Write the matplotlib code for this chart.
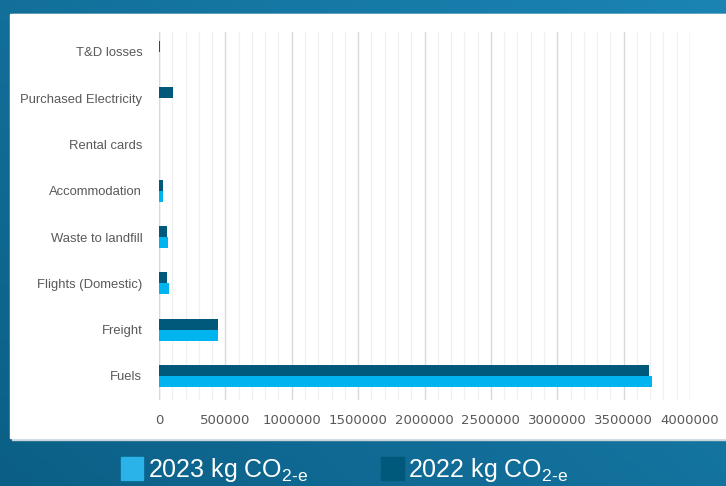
import numpy as np
import matplotlib.pyplot as plt
from matplotlib.patches import Rectangle
from matplotlib.ticker import MultipleLocator
from matplotlib.colors import LinearSegmentedColormap

plt.rcParams['mathtext.fontset'] = 'custom'
plt.rcParams['mathtext.rm'] = 'Liberation Sans'

## categories, top to bottom as in the picture
categories = ['T&D losses', 'Purchased Electricity', 'Rental cards', 'Accommodation',
              'Waste to landfill', 'Flights (Domestic)', 'Freight', 'Fuels']
vals_2022 = [4000, 103000, 3000, 28000, 57000, 58000, 444000, 3690000]
vals_2023 = [2000, 0, 3000, 32000, 65000, 75000, 444000, 3710000]
xticks = [0, 500000, 1000000, 1500000, 2000000, 2500000, 3000000, 3500000, 4000000]

c22 = '#00587a'
c23 = '#00b4f0'

fig = plt.figure(figsize=(7.26, 4.86), dpi=100)

## blue gradient background
bg = fig.add_axes([0, 0, 1, 1], zorder=-10)
gx, gy = np.meshgrid(np.linspace(0, 1, 200), np.linspace(0, 1, 200))
grad = 0.55 * gx + 0.45 * (1 - gy)
cmap = LinearSegmentedColormap.from_list('bg', ['#0b5f86', '#1b84b3'])
bg.imshow(grad, cmap=cmap, aspect='auto', extent=[0, 1, 0, 1], origin='upper')
bg.set_xlim(0, 1); bg.set_ylim(0, 1)
bg.axis('off')
## white panel
bg.add_patch(Rectangle((12 / 726, 1 - 440 / 486), 1, 426 / 486, color='#c8d3da', zorder=1))
bg.add_patch(Rectangle((10 / 726, 1 - 438 / 486), 1, 424 / 486, color='white', zorder=2))

ax = fig.add_axes([159 / 726, 1 - 400 / 486, (690 - 159) / 726, 368 / 486])
y = np.arange(len(categories))[::-1]
h = 0.24
ax.barh(y + h / 2, vals_2022, height=h, color=c22, zorder=3)
ax.barh(y - h / 2, vals_2023, height=h, color=c23, zorder=3)

ax.set_xlim(0, 4000000)
ax.set_ylim(-0.52, len(categories) - 0.57)
ax.set_yticks(y)
ax.set_yticklabels(categories)
ax.set_xticks(xticks)
ax.set_xticklabels([str(t) for t in xticks])
ax.xaxis.set_minor_locator(MultipleLocator(100000))
ax.grid(axis='x', which='major', color='#d9d9d9', lw=1.0, zorder=0)
ax.grid(axis='x', which='minor', color='#f0f0f0', lw=0.9, zorder=0)
ax.tick_params(axis='both', which='both', length=0, labelsize=9.5, colors='#595959')
ax.tick_params(axis='x', pad=10)
ax.tick_params(axis='y', pad=12)
for s in ax.spines.values():
    s.set_visible(False)
ax.axvline(0, color='#d9d9d9', lw=1.0, zorder=1)

for lab in ax.get_yticklabels():
    lab.set_family('Liberation Sans')
    lab.set_fontsize(9.4)

## legend below the panel
bg.add_patch(Rectangle((121 / 726, 1 - 480 / 486), 22 / 726, 23 / 486, color='#2ab3e8', zorder=3))
bg.add_patch(Rectangle((381 / 726, 1 - 480 / 486), 23 / 726, 23 / 486, color=c22, zorder=3))
sub = 'CO$_{\\mathrm{2\\text{-}e}}$'
bg.text(148 / 726, 1 - 470 / 486, '2023 kg ' + sub, color='white', fontsize=18,
        va='center', ha='left', family='Liberation Sans', zorder=4)
bg.text(408 / 726, 1 - 470 / 486, '2022 kg ' + sub, color='white', fontsize=18,
        va='center', ha='left', family='Liberation Sans', zorder=4)

fig.savefig('out.png', dpi=100)
